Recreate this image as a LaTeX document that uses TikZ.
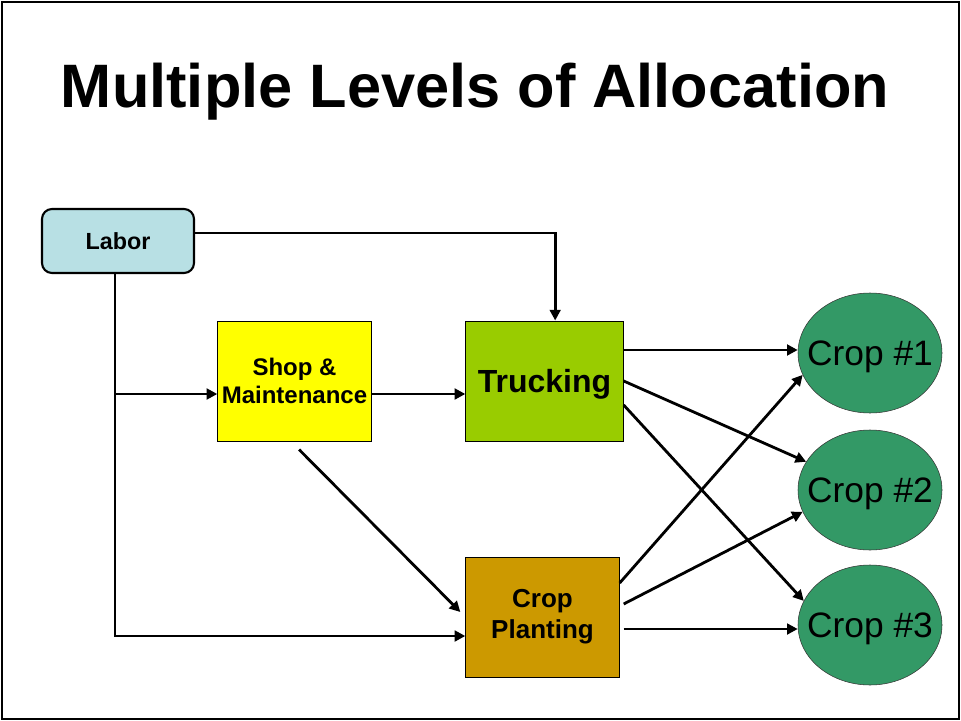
\documentclass[tikz,border=0pt]{standalone}
\usepackage{fontspec}
\setmainfont{Liberation Sans}
\usetikzlibrary{arrows.meta,shapes.geometric}
\definecolor{laborblue}{HTML}{B8E0E4}
\definecolor{shopyellow}{HTML}{FFFF00}
\definecolor{truckgreen}{HTML}{99CC00}
\definecolor{plantbrown}{HTML}{CC9900}
\definecolor{cropgreen}{HTML}{339966}

\begin{document}
\begin{tikzpicture}[x=0.75pt,y=-0.75pt,
  box/.style={draw, line width=0.75pt, inner sep=0pt, align=center},
  crop/.style={draw=black!80, ellipse, fill=cropgreen, minimum width=108pt, minimum height=90pt, inner ysep=0pt, inner xsep=-40pt, text depth=0pt, font=\fontsize{26.5}{30}\selectfont},
  flow/.style={line width=2.1pt, -{Triangle[length=8pt,width=8pt]}}]
\useasboundingbox (0,0) rectangle (961,721);
\draw[line width=1.5pt] (2,2) rectangle (959,719);
\node[anchor=base, font=\fontsize{46}{50}\bfseries] (title) at (475,107) {Multiple Levels of Allocation};

\node[box, fill=laborblue, rounded corners=7.5pt, line width=1.6pt, minimum width=114pt, minimum height=48pt, font=\fontsize{17.5}{21}\bfseries] (L) at (118,241) {Labor};
\node[box, fill=shopyellow, minimum width=115pt, minimum height=90pt, font=\fontsize{18}{21.5}\bfseries] (S) at (294.5,381) {Shop \&\\Maintenance};
\node[box, fill=truckgreen, minimum width=118pt, minimum height=90pt, text depth=0pt, font=\fontsize{24}{28}\bfseries, right of=S, node distance=187.5pt] (T) {Trucking};
\node[box, fill=plantbrown, minimum width=115pt, minimum height=90pt, font=\fontsize{19.5}{23.5}\bfseries, below of=T, node distance=177pt, xshift=-1.5pt] (P) {Crop\\Planting};

\node[crop] (C1) at (870,353) {Crop \#1};
\node[crop, below of=C1, node distance=102.75pt] (C2) {Crop \#2};
\node[crop, below of=C2, node distance=101.25pt] (C3) {Crop \#3};

\coordinate (l1) at ([xshift=-2.25pt]L.south);
\coordinate (s1) at ([yshift=-9.75pt]S.west);
\draw[flow] ([yshift=6pt]L.east) -| ([xshift=8pt]T.north);
\draw[flow] (l1) |- ([yshift=-14.25pt]P.west);
\draw[flow] (l1 |- s1) -- (s1);
\draw[flow] (s1 -| S.east) -- (s1 -| T.west);
\draw[flow] ([shift={(3.4pt,-6pt)}]S.south) -- ([shift={(-3.75pt,3.75pt)}]P.west);

\coordinate (t1) at ([yshift=23.25pt]T.east);
\draw[flow] (t1) -- (t1 -| C1.west);
\draw[flow] (T.east) -- (C2);
\draw[flow] ([yshift=-18pt]T.east) -- (C3.160);

\coordinate (p3) at ([shift={(3pt,-9pt)}]P.east);
\draw[flow] ([yshift=25.5pt]P.east) -- (C1.198);
\draw[flow] ([shift={(3pt,9.75pt)}]P.east) -- (C2.198);
\draw[flow] (p3) -- (p3 -| C3.west);
\end{tikzpicture}
\end{document}
